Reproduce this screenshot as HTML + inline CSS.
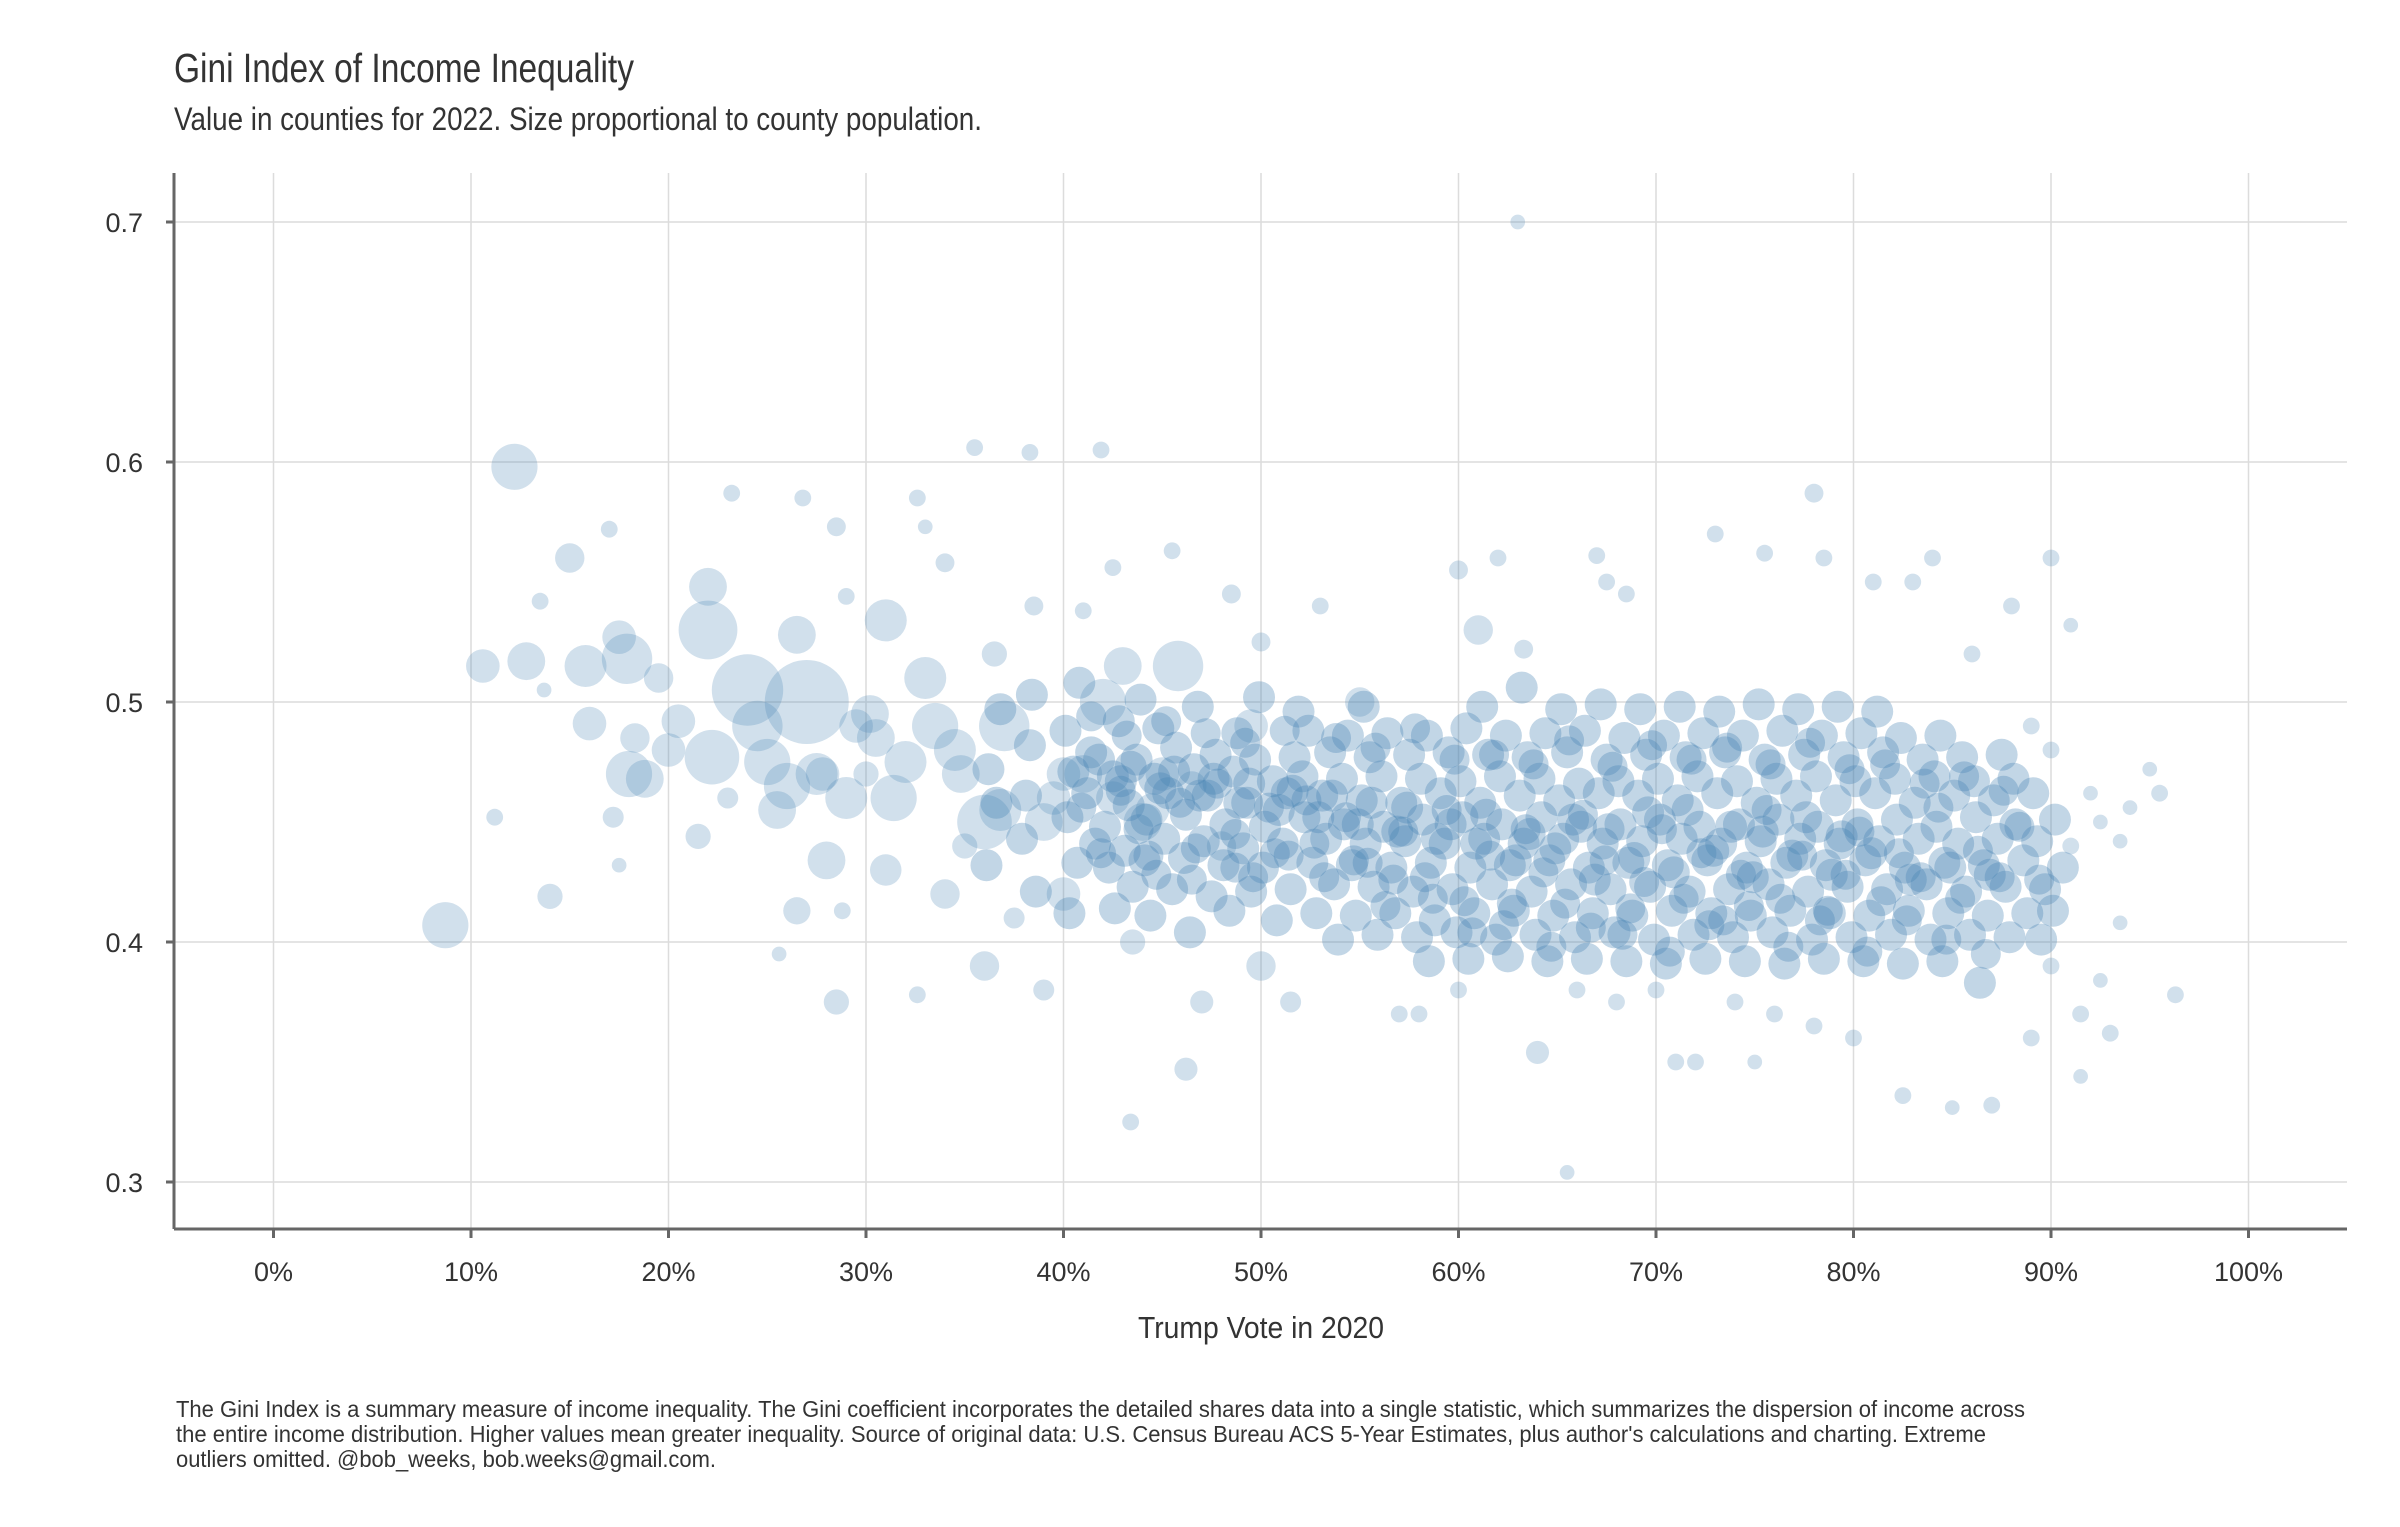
<!DOCTYPE html>
<html><head><meta charset="utf-8"><title>Gini Index of Income Inequality</title>
<style>
html,body{margin:0;padding:0;background:#fff;}
svg{display:block;font-family:"Liberation Sans",sans-serif;}
</style></head>
<body>
<svg id="chart" width="2400" height="1527" viewBox="0 0 2400 1527" xmlns="http://www.w3.org/2000/svg">
<text x="174" y="82" font-size="41" fill="#333" textLength="460" lengthAdjust="spacingAndGlyphs">Gini Index of Income Inequality</text>
<text x="174" y="130" font-size="32" fill="#333" textLength="808" lengthAdjust="spacingAndGlyphs">Value in counties for 2022. Size proportional to county population.</text>
<g id="grid"></g>
<g id="points"></g>
<g id="axes"></g>
<text x="1261" y="1338" font-size="31" fill="#333" text-anchor="middle" textLength="246" lengthAdjust="spacingAndGlyphs">Trump Vote in 2020</text>
<g font-size="23" fill="#333">
<text x="176" y="1417" textLength="1849" lengthAdjust="spacingAndGlyphs">The Gini Index is a summary measure of income inequality. The Gini coefficient incorporates the detailed shares data into a single statistic, which summarizes the dispersion of income across</text>
<text x="176" y="1442" textLength="1810" lengthAdjust="spacingAndGlyphs">the entire income distribution. Higher values mean greater inequality. Source of original data: U.S. Census Bureau ACS 5-Year Estimates, plus author's calculations and charting. Extreme</text>
<text x="176" y="1467" textLength="540" lengthAdjust="spacingAndGlyphs">outliers omitted. @bob_weeks, bob.weeks@gmail.com.</text>
</g>
</svg>
<script>
// ---- data ----
const xTicks=[0,10,20,30,40,50,60,70,80,90,100];
const xTickLabels=["0%","10%","20%","30%","40%","50%","60%","70%","80%","90%","100%"];
const yTicks=[0.3,0.4,0.5,0.6,0.7];
const yTickLabels=["0.3","0.4","0.5","0.6","0.7"];
// large / sparse counties
const bigVote=[8.7,11.2,10.6,12.2,12.8,13.5,13.7,14,15,15.8,16,17,17.5,17.9,17.2,17.5,18,18.8,18.3,20.5,21.5,22,22,22.2,23.2,23,24,25,25.6,26.5,26.8,26.5,27,27.5,28.5,28.5,28,28.8,29,29.5,30,31,31.4,31,32.6,32.6,33,33,33.5,34,34,34.5,35.5,35,36,36.5,36,37,37.5,38.3,38.5,39,39,40,40,41,41.9,42,42.5,42.5,43,43.4,43.5,44,45,45.5,45.8,46.2,47,48.5,49.5,50,50,51.5,53,55,57,60,61,62,63,63.3,64,65.5,67,67.5,68.5,71,72,73,75,75.5,78,78.5,82.5,85,87,89,90,91,91.5,92.5,93,93.5,94,95,95.5,96.3,92,92.5,93.5,91,91.5,90,89,90,88,86,84,83,81,80,78,76,74,70,68,66,60,58,24.5,26,29,30.5,32,34.8,36.8,39.5,41,44.5,46.5,48,20,19.5,25.5,27.8,30.2];
const bigGini=[0.407,0.452,0.515,0.598,0.517,0.542,0.505,0.419,0.56,0.515,0.491,0.572,0.527,0.518,0.452,0.432,0.47,0.468,0.485,0.492,0.444,0.548,0.53,0.477,0.587,0.46,0.505,0.475,0.395,0.528,0.585,0.413,0.5,0.47,0.573,0.375,0.434,0.413,0.544,0.49,0.47,0.534,0.46,0.43,0.585,0.378,0.573,0.51,0.49,0.558,0.42,0.48,0.606,0.44,0.39,0.52,0.45,0.49,0.41,0.604,0.54,0.45,0.38,0.47,0.42,0.538,0.605,0.5,0.46,0.556,0.515,0.325,0.4,0.45,0.47,0.563,0.515,0.347,0.375,0.545,0.49,0.39,0.525,0.375,0.54,0.5,0.37,0.555,0.53,0.56,0.7,0.522,0.354,0.304,0.561,0.55,0.545,0.35,0.35,0.57,0.35,0.562,0.587,0.56,0.336,0.331,0.332,0.36,0.56,0.532,0.344,0.384,0.362,0.408,0.456,0.472,0.462,0.378,0.462,0.45,0.442,0.44,0.37,0.39,0.49,0.48,0.54,0.52,0.56,0.55,0.55,0.36,0.365,0.37,0.375,0.38,0.375,0.38,0.38,0.37,0.49,0.465,0.46,0.485,0.475,0.47,0.455,0.46,0.47,0.455,0.465,0.44,0.48,0.51,0.455,0.47,0.495];
const bigSize=[22,8,16,22,18,8,7,12,14,20,16,8,16,24,10,7,22,18,14,16,12,18,28,26,8,10,34,22,7,18,8,13,40,20,9,12,18,8,8,16,12,20,22,15,8,8,7,20,22,9,14,20,8,12,14,12,26,24,10,8,9,18,10,16,16,8,8,22,16,8,18,8,12,18,16,8,24,11,11,9,16,14,9,10,8,14,8,9,14,8,7,9,11,7,8,8,8,8,8,8,7,8,9,8,8,7,8,8,8,7,7,7,8,7,7,7,8,8,7,7,7,8,8,8,8,8,8,8,8,8,8,8,8,8,8,8,8,8,8,8,24,22,20,18,20,18,20,16,18,16,14,14,16,14,18,16,18];
// dense core of counties
const coreVote=[36.2,36.6,36.1,36.8,37.9,38.3,38.1,38.6,38.4,40.2,40.5,40.1,40.7,40.3,40.8,41.2,41.6,41.4,42.1,42.5,42.3,42.8,42.6,43.3,43.1,43.7,43.5,43.9,44.2,44.6,44.1,44.8,44.4,45.3,45.1,45.7,45.5,46.2,46.6,46.1,46.8,46.4,47.3,47.1,47.7,47.5,48.2,48.6,48.1,48.8,48.4,49.3,49.1,49.7,49.5,49.9,50.2,50.6,50.1,50.8,51.3,51.1,51.7,51.5,51.9,52.2,52.6,52.1,52.8,52.4,53.3,53.1,53.7,53.5,53.9,54.2,54.6,54.1,54.8,54.4,55.3,55.1,55.7,55.5,55.9,55.2,56.2,56.6,56.1,56.8,56.4,57.3,57.1,57.7,57.5,57.9,58.2,58.6,58.1,58.8,58.4,58.5,59.3,59.1,59.7,59.5,59.9,60.2,60.6,60.1,60.8,60.4,60.5,61.3,61.1,61.7,61.5,61.9,61.2,62.2,62.6,62.1,62.8,62.4,62.5,63.3,63.1,63.7,63.5,63.9,63.2,64.2,64.6,64.1,64.8,64.4,64.5,65.3,65.1,65.7,65.5,65.9,65.2,66.2,66.6,66.1,66.8,66.4,66.5,67.3,67.1,67.7,67.5,67.9,67.2,68.2,68.6,68.1,68.8,68.4,68.5,69.3,69.1,69.7,69.5,69.9,69.2,70.2,70.6,70.1,70.8,70.4,70.5,71.3,71.1,71.7,71.5,71.9,71.2,72.2,72.6,72.1,72.8,72.4,72.5,73.3,73.1,73.7,73.5,73.9,73.2,74.2,74.6,74.1,74.8,74.4,74.5,75.3,75.1,75.7,75.5,75.9,75.2,76.2,76.6,76.1,76.8,76.4,76.5,77.3,77.1,77.7,77.5,77.9,77.2,78.2,78.6,78.1,78.8,78.4,78.5,79.3,79.1,79.7,79.5,79.9,79.2,80.2,80.6,80.1,80.8,80.4,80.5,81.3,81.1,81.7,81.5,81.9,81.2,82.2,82.6,82.1,82.8,82.4,82.5,83.3,83.1,83.7,83.5,83.9,84.2,84.6,84.1,84.8,84.4,84.5,85.3,85.1,85.7,85.5,85.9,86.2,86.6,86.1,86.8,86.4,87.3,87.1,87.7,87.5,87.9,88.2,88.6,88.1,88.8,89.3,89.1,89.7,89.5,90.2,90.6,90.1,71.6,73.8,75.4,77.6,79.4,69.6,67.6,65.8,63.6,61.4,59.6,57.4,55.6,53.6,51.6,49.4,47.6,45.6,43.4,41.8,80.9,78.9,76.9,74.9,72.9,70.9,68.9,66.9,64.9,62.9,60.9,58.9,56.9,54.9,52.9,50.9,48.9,46.9,44.9,42.9,82.9,84.9,86.9];
const coreGini=[0.472,0.458,0.432,0.497,0.443,0.482,0.461,0.421,0.503,0.452,0.471,0.488,0.433,0.412,0.508,0.462,0.441,0.479,0.448,0.469,0.431,0.492,0.414,0.457,0.438,0.476,0.423,0.501,0.451,0.468,0.434,0.489,0.411,0.462,0.443,0.481,0.422,0.453,0.472,0.435,0.498,0.404,0.461,0.442,0.478,0.419,0.449,0.471,0.432,0.487,0.413,0.458,0.439,0.476,0.421,0.502,0.448,0.467,0.431,0.409,0.462,0.441,0.477,0.422,0.496,0.452,0.433,0.469,0.412,0.488,0.443,0.461,0.424,0.479,0.401,0.449,0.432,0.468,0.411,0.486,0.441,0.459,0.423,0.477,0.403,0.498,0.448,0.431,0.469,0.412,0.487,0.442,0.458,0.421,0.478,0.402,0.451,0.433,0.468,0.409,0.486,0.392,0.441,0.462,0.422,0.479,0.404,0.452,0.431,0.467,0.412,0.489,0.393,0.443,0.458,0.424,0.478,0.401,0.498,0.449,0.432,0.469,0.413,0.486,0.394,0.441,0.461,0.421,0.477,0.403,0.506,0.452,0.434,0.468,0.411,0.487,0.392,0.443,0.459,0.424,0.479,0.402,0.497,0.448,0.431,0.466,0.412,0.488,0.393,0.441,0.462,0.422,0.476,0.404,0.499,0.449,0.433,0.467,0.411,0.485,0.392,0.442,0.461,0.423,0.478,0.401,0.497,0.451,0.432,0.468,0.413,0.486,0.391,0.443,0.459,0.421,0.477,0.403,0.498,0.448,0.434,0.469,0.412,0.487,0.393,0.441,0.462,0.422,0.479,0.402,0.496,0.449,0.431,0.467,0.411,0.486,0.392,0.442,0.458,0.424,0.476,0.404,0.499,0.451,0.433,0.468,0.413,0.488,0.391,0.443,0.461,0.421,0.478,0.401,0.497,0.448,0.432,0.469,0.412,0.486,0.393,0.441,0.459,0.423,0.477,0.402,0.498,0.449,0.434,0.467,0.411,0.487,0.392,0.442,0.462,0.422,0.479,0.403,0.496,0.451,0.431,0.468,0.413,0.485,0.391,0.443,0.458,0.424,0.476,0.401,0.448,0.433,0.469,0.412,0.486,0.392,0.441,0.461,0.421,0.477,0.403,0.452,0.432,0.467,0.411,0.383,0.443,0.459,0.423,0.478,0.402,0.449,0.434,0.468,0.412,0.442,0.462,0.422,0.401,0.451,0.431,0.413,0.455,0.448,0.446,0.452,0.444,0.454,0.447,0.451,0.445,0.453,0.449,0.456,0.458,0.461,0.463,0.466,0.468,0.471,0.473,0.476,0.437,0.428,0.436,0.427,0.438,0.429,0.435,0.426,0.439,0.434,0.441,0.443,0.446,0.449,0.452,0.455,0.458,0.461,0.464,0.467,0.426,0.431,0.428];
// second batch filling the densest band
const fillVote=[40.9,41.9,42.9,43.8,44.7,45.9,46.7,47.8,48.7,49.6,50.4,51.4,52.3,53.2,54.3,55.4,56.3,57.2,58.3,59.4,60.3,61.6,62.3,63.4,64.3,65.4,66.3,67.4,68.3,69.4,70.3,71.4,72.3,73.4,74.3,75.6,76.3,77.4,78.3,79.6,80.3,81.4,82.3,83.4,84.3,85.4,86.3,87.4,88.4,89.4,41.4,43.2,45.2,47.2,49.2,51.2,53.8,55.8,57.8,59.8,61.8,63.8,65.6,67.8,69.8,71.8,73.6,75.8,77.8,79.8,81.6,83.6,85.6,87.6,60.7,62.7,64.7,66.7,68.7,70.7,72.7,74.7,76.7,78.7,80.7,82.7,84.7,86.7,58.7,56.7,54.7,52.7,50.7,48.7,46.5,44.3];
const fillGini=[0.456,0.437,0.463,0.447,0.428,0.458,0.439,0.466,0.445,0.427,0.456,0.436,0.459,0.427,0.452,0.433,0.415,0.446,0.427,0.455,0.417,0.436,0.407,0.447,0.429,0.416,0.453,0.434,0.403,0.425,0.447,0.418,0.437,0.409,0.428,0.455,0.418,0.436,0.409,0.428,0.446,0.417,0.437,0.427,0.456,0.418,0.438,0.427,0.448,0.426,0.494,0.486,0.492,0.487,0.483,0.488,0.485,0.481,0.489,0.476,0.478,0.474,0.484,0.473,0.482,0.476,0.481,0.474,0.483,0.472,0.474,0.466,0.469,0.463,0.404,0.416,0.398,0.406,0.414,0.396,0.407,0.415,0.398,0.413,0.396,0.409,0.401,0.395,0.418,0.426,0.434,0.441,0.437,0.431,0.426,0.436];

// ---- scales ----
const X0=273.5, PX_PER_PCT=19.75;
const Y0=222, PX_PER_UNIT=2400;
function xs(v){return X0+v*PX_PER_PCT;}
function ys(g){return Y0+(0.7-g)*PX_PER_UNIT;}
const NS="http://www.w3.org/2000/svg";
function mk(tag,attrs,parent){const e=document.createElementNS(NS,tag);for(const k in attrs)e.setAttribute(k,attrs[k]);parent.appendChild(e);return e;}
const grid=document.getElementById('grid'),axes=document.getElementById('axes'),pts=document.getElementById('points');
const L=174,R=2347,T=173,B=1229;
xTicks.forEach((t,i)=>{
  const gl=mk('line',{x1:xs(t),x2:xs(t),y1:T,y2:B,stroke:'#dcdcdc','stroke-width':1.5},grid);
  
  
  const tk=mk('line',{x1:xs(t),x2:xs(t),y1:B,y2:B+9,stroke:'#666','stroke-width':3},axes);
  
  
  const lb=mk('text',{x:xs(t),y:1281,'font-size':27,fill:'#333','text-anchor':'middle'},axes);
  lb.textContent=xTickLabels[i];
  
  
});
yTicks.forEach((t,i)=>{
  const gl=mk('line',{x1:L,x2:R,y1:ys(t),y2:ys(t),stroke:'#dcdcdc','stroke-width':1.5},grid);
  
  
  const tk=mk('line',{x1:L-8,x2:L,y1:ys(t),y2:ys(t),stroke:'#666','stroke-width':3},axes);
  
  
  const lb=mk('text',{x:143,y:ys(t)+10,'font-size':27,fill:'#333','text-anchor':'end'},axes);
  lb.textContent=yTickLabels[i];
  
  
});
const ya=mk('line',{x1:L,x2:L,y1:T,y2:B,stroke:'#666','stroke-width':3},axes);


const xa=mk('line',{x1:L,x2:R,y1:B,y2:B,stroke:'#666','stroke-width':3},axes);



bigVote.forEach((v,i)=>{
  const c=mk('circle',{cx:xs(v),cy:ys(bigGini[i]),r:bigSize[i]*1.05,fill:'#4682b4','fill-opacity':0.25},pts);
  
  
});
coreVote.forEach((v,i)=>{
  const c=mk('circle',{cx:xs(v),cy:ys(coreGini[i]),r:16,fill:'#4682b4','fill-opacity':0.33},pts);
  
  
});
fillVote.forEach((v,i)=>{
  const c=mk('circle',{cx:xs(v),cy:ys(fillGini[i]),r:15,fill:'#4682b4','fill-opacity':0.33},pts);
  
  
});
</script>
</body></html>
